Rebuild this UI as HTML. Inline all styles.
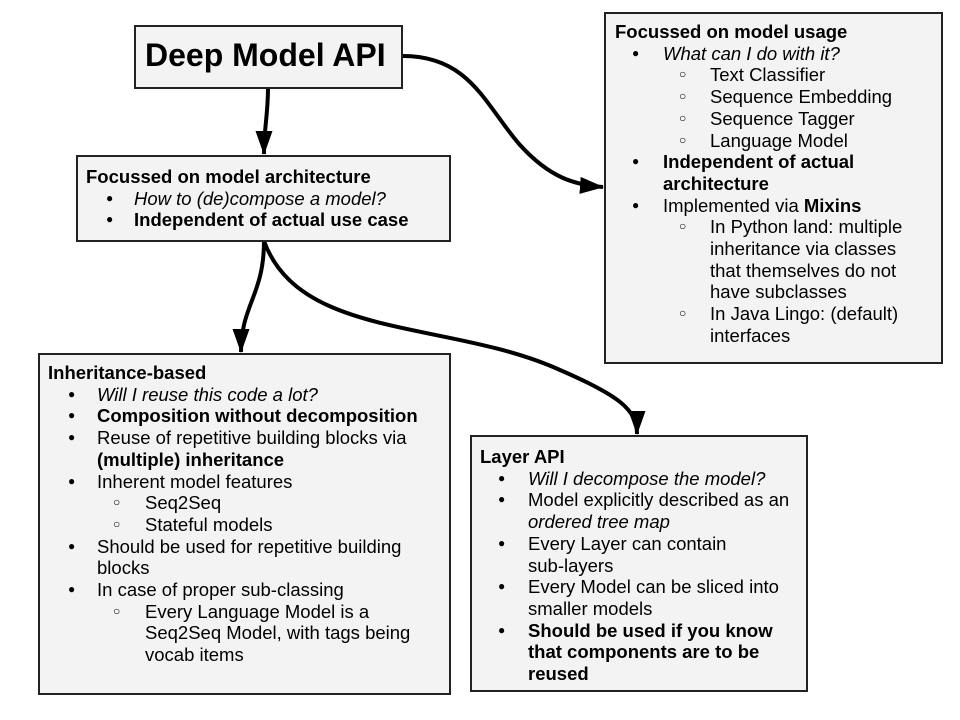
<!DOCTYPE html>
<html><head><meta charset="utf-8"><style>
body{margin:0;width:960px;height:720px;background:#fff;position:relative;overflow:hidden;font-family:"Liberation Sans",Arial,sans-serif;color:#000}
.box{position:absolute;background:#f3f3f3;border:2px solid #222;box-sizing:border-box}
.l{position:absolute;font-size:18.5px;line-height:21.7px;white-space:nowrap}
.b{font-weight:bold}.i{font-style:italic}
.d{position:absolute;font-size:12px;line-height:21.7px}
</style></head><body>
<svg width="960" height="720" style="position:absolute;left:0;top:0">
<defs><marker id="a" markerWidth="26" markerHeight="18" refX="23" refY="8.5" orient="auto" markerUnits="userSpaceOnUse"><path d="M0,0 L24,8.5 L0,17 z" fill="#000"/></marker></defs>
<g fill="none" stroke="#000" stroke-width="4" marker-end="url(#a)">
<path d="M268,88 C268,115 264,128 264,154"/>
<path d="M403,56 C470,56 485,105 520,145 C550,178 575,185 603,187"/>
<path d="M264,241 C264,295 241,305 241,352"/>
<path d="M264,241 C300,340 450,320 560,370 C620,396 637,410 637,434"/>
</g></svg>

<div class="box" style="left:134px;top:25px;width:269px;height:64px"></div>
<div class="l b" style="left:145px;top:36px;font-size:32px;line-height:38px">Deep Model API</div>

<div class="box" style="left:76px;top:155px;width:375px;height:87px"></div>
<div class="l b" style="left:86px;top:166px">Focussed on model architecture</div>
<div class="d" style="left:106px;top:187.7px">●</div><div class="l i" style="left:134px;top:187.7px">How to (de)compose a model?</div>
<div class="d" style="left:106px;top:209.4px">●</div><div class="l b" style="left:134px;top:209.4px">Independent of actual use case</div>

<div class="box" style="left:604px;top:12px;width:339px;height:352px"></div>
<div class="l b" style="left:615px;top:21px">Focussed on model usage</div>
<div class="d" style="left:632px;top:42.7px">●</div><div class="l i" style="left:663px;top:42.7px">What can I do with it?</div>
<div class="d" style="left:679px;top:64.4px">○</div><div class="l" style="left:710px;top:64.4px">Text Classifier</div>
<div class="d" style="left:679px;top:86.1px">○</div><div class="l" style="left:710px;top:86.1px">Sequence Embedding</div>
<div class="d" style="left:679px;top:107.8px">○</div><div class="l" style="left:710px;top:107.8px">Sequence Tagger</div>
<div class="d" style="left:679px;top:129.5px">○</div><div class="l" style="left:710px;top:129.5px">Language Model</div>
<div class="d" style="left:632px;top:151.2px">●</div><div class="l b" style="left:663px;top:151.2px">Independent of actual<br>architecture</div>
<div class="d" style="left:632px;top:194.6px">●</div><div class="l" style="left:663px;top:194.6px">Implemented via <b>Mixins</b></div>
<div class="d" style="left:679px;top:216.3px">○</div><div class="l" style="left:710px;top:216.3px">In Python land: multiple<br>inheritance via classes<br>that themselves do not<br>have subclasses</div>
<div class="d" style="left:679px;top:303.1px">○</div><div class="l" style="left:710px;top:303.1px">In Java Lingo: (default)<br>interfaces</div>

<div class="box" style="left:38px;top:353px;width:413px;height:342px"></div>
<div class="l b" style="left:48px;top:362px">Inheritance-based</div>
<div class="d" style="left:68px;top:383.7px">●</div><div class="l i" style="left:97px;top:383.7px">Will I reuse this code a lot?</div>
<div class="d" style="left:68px;top:405.4px">●</div><div class="l b" style="left:97px;top:405.4px">Composition without decomposition</div>
<div class="d" style="left:68px;top:427.1px">●</div><div class="l" style="left:97px;top:427.1px">Reuse of repetitive building blocks via<br><b>(multiple) inheritance</b></div>
<div class="d" style="left:68px;top:470.5px">●</div><div class="l" style="left:97px;top:470.5px">Inherent model features</div>
<div class="d" style="left:113px;top:492.2px">○</div><div class="l" style="left:145px;top:492.2px">Seq2Seq</div>
<div class="d" style="left:113px;top:513.9px">○</div><div class="l" style="left:145px;top:513.9px">Stateful models</div>
<div class="d" style="left:68px;top:535.6px">●</div><div class="l" style="left:97px;top:535.6px">Should be used for repetitive building<br>blocks</div>
<div class="d" style="left:68px;top:579px">●</div><div class="l" style="left:97px;top:579px">In case of proper sub-classing</div>
<div class="d" style="left:113px;top:600.7px">○</div><div class="l" style="left:145px;top:600.7px">Every Language Model is a<br>Seq2Seq Model, with tags being<br>vocab items</div>

<div class="box" style="left:470px;top:435px;width:338px;height:257px"></div>
<div class="l b" style="left:480px;top:446px">Layer API</div>
<div class="d" style="left:498px;top:467.7px">●</div><div class="l i" style="left:528px;top:467.7px">Will I decompose the model?</div>
<div class="d" style="left:498px;top:489.4px">●</div><div class="l" style="left:528px;top:489.4px">Model explicitly described as an<br><i>ordered tree map</i></div>
<div class="d" style="left:498px;top:532.8px">●</div><div class="l" style="left:528px;top:532.8px">Every Layer can contain<br>sub-layers</div>
<div class="d" style="left:498px;top:576.2px">●</div><div class="l" style="left:528px;top:576.2px">Every Model can be sliced into<br>smaller models</div>
<div class="d" style="left:498px;top:619.6px">●</div><div class="l b" style="left:528px;top:619.6px">Should be used if you know<br>that components are to be<br>reused</div>
</body></html>
